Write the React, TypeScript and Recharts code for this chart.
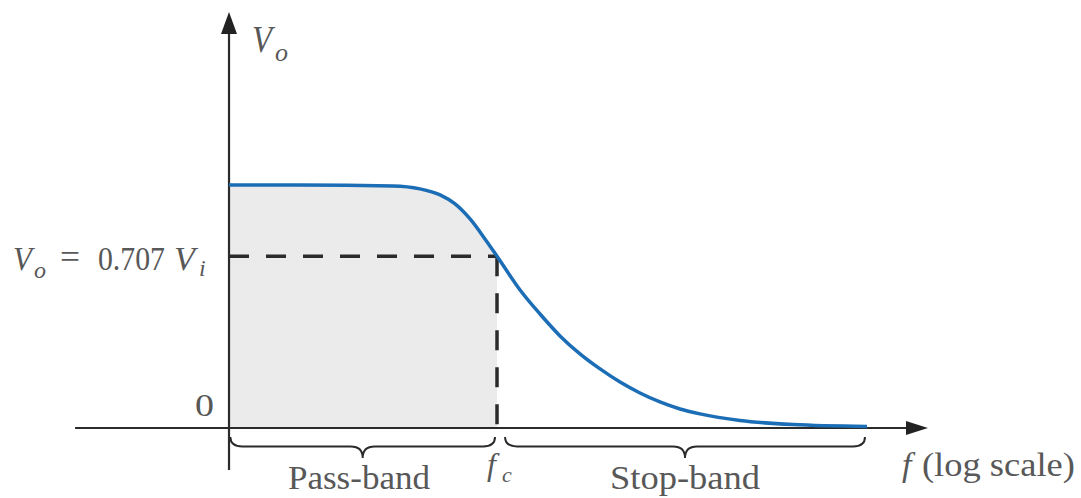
import React from "react";
import {
  ComposedChart,
  Area,
  Line,
  XAxis,
  YAxis,
  ReferenceLine,
  ReferenceDot,
  ReferenceArea,
} from "recharts";

// frequency in decades, relative to the vertical axis; fc sits at 2
const logFreq = [0, 0.53, 1.224, 1.425, 1.575, 1.687, 1.799, 1.91, 2.0, 2.172, 2.321, 2.47, 2.619, 2.769, 2.918, 3.067, 3.216, 3.366, 3.515, 3.813, 4.209, 4.761];
const gain = [1.0, 1.0, 0.996, 0.984, 0.959, 0.922, 0.86, 0.778, 0.707, 0.568, 0.469, 0.379, 0.305, 0.243, 0.189, 0.144, 0.107, 0.078, 0.058, 0.031, 0.014, 0.006];
const FC = 2;
const CUTOFF = 0.707;

const data = logFreq.map((x, i) => ({
  x,
  vo: gain[i],
  pass: x <= FC ? gain[i] : null,
}));

const INK = "#2b2b2b";
const TEXT = "#585858";
const SERIF = '"Liberation Serif", "Times New Roman", serif';

type Piece = { s: string; dx: number; dy: number; size: number; len?: number; italic?: boolean; anchor?: string };

const label = (parts: Piece[]) => (p: any) => (
  <g>
    {parts.map((t, i) => (
      <text
        key={i}
        x={p.cx + t.dx}
        y={p.cy + t.dy}
        fontFamily={SERIF}
        fontSize={t.size}
        fontStyle={t.italic ? "italic" : "normal"}
        fill={TEXT}
        textAnchor={t.anchor || "start"}
        textLength={t.len}
        lengthAdjust={t.len ? "spacingAndGlyphs" : undefined}
      >
        {t.s}
      </text>
    ))}
  </g>
);

const brace = (p: any) => {
  const { x, y, width: w, height: h } = p;
  const cx = x + w / 2;
  const hm = y + h * 0.45;
  const r = 12;
  const d = `M${x},${y} Q${x},${hm} ${x + r},${hm} L${cx - r},${hm} Q${cx},${hm} ${cx},${y + h} Q${cx},${hm} ${cx + r},${hm} L${x + w - r},${hm} Q${x + w},${hm} ${x + w},${y}`;
  return <path d={d} fill="none" stroke={INK} strokeWidth={2} />;
};

const arrowRight = (p: any) => (
  <polygon points={`${p.cx},${p.cy} ${p.cx - 22},${p.cy - 7} ${p.cx - 22},${p.cy + 7}`} fill="#222" />
);
const arrowUp = (p: any) => (
  <polygon points={`${p.cx},${p.cy} ${p.cx - 8},${p.cy + 22} ${p.cx + 8},${p.cy + 22}`} fill="#222" />
);

export default function App() {
  return (
    <div style={{ width: 1081, height: 498, background: "#fff" }}>
      <style>{`body{margin:0}`}</style>
      <ComposedChart width={1081} height={498} data={data} margin={{ top: 0, right: 0, bottom: 0, left: 0 }}>
        <XAxis type="number" dataKey="x" domain={[-1.709, 6.358]} hide allowDataOverflow />
        <YAxis type="number" domain={[-0.288, 1.761]} hide allowDataOverflow />

        <Area
          dataKey="pass"
          type="monotone"
          baseValue={0}
          fill="#ebebeb"
          fillOpacity={1}
          stroke="none"
          dot={false}
          activeDot={false}
          isAnimationActive={false}
        />

        {/* cutoff guides */}
        <ReferenceLine
          segment={[{ x: 0, y: CUTOFF }, { x: FC, y: CUTOFF }]}
          stroke={INK}
          strokeWidth={3.5}
          strokeDasharray="20 17"
        />
        <ReferenceLine
          segment={[{ x: FC, y: CUTOFF }, { x: FC, y: 0 }]}
          stroke={INK}
          strokeWidth={3.5}
          strokeDasharray="20 17"
        />

        {/* axes */}
        <ReferenceLine segment={[{ x: -1.149, y: 0 }, { x: 5.1, y: 0 }]} stroke={INK} strokeWidth={2.2} />
        <ReferenceLine segment={[{ x: 0, y: -0.173 }, { x: 0, y: 1.64 }]} stroke={INK} strokeWidth={2.2} />
        <ReferenceDot x={5.216} y={0} shape={arrowRight} />
        <ReferenceDot x={0} y={1.712} shape={arrowUp} />

        <Line
          dataKey="vo"
          type="monotone"
          stroke="#1b6db5"
          strokeWidth={3.5}
          dot={false}
          activeDot={false}
          isAnimationActive={false}
        />

        {/* band braces */}
        <ReferenceArea x1={0.01} x2={1.985} y1={-0.037} y2={-0.123} shape={brace} />
        <ReferenceArea x1={2.06} x2={4.746} y1={-0.037} y2={-0.123} shape={brace} />

        {/* labels */}
        <ReferenceDot
          x={0.172}
          y={1.547}
          shape={label([
            { s: "V", dx: 0, dy: 0, size: 38, len: 20, italic: true },
            { s: "o", dx: 23, dy: 9, size: 26, len: 13, italic: true },
          ])}
        />
        <ReferenceDot
          x={-1.612}
          y={0.65}
          shape={label([
            { s: "V", dx: 0, dy: 0, size: 34, len: 19, italic: true },
            { s: "o", dx: 21, dy: 8, size: 24, len: 12, italic: true },
            { s: "=", dx: 47, dy: -2, size: 34, len: 20 },
            { s: "0.707", dx: 85, dy: 0, size: 33, len: 67 },
            { s: "V", dx: 161, dy: 0, size: 34, len: 21, italic: true },
            { s: "i", dx: 186, dy: 6, size: 24, italic: true },
          ])}
        />
        <ReferenceDot
          x={-0.254}
          y={0.049}
          shape={label([{ s: "0", dx: 0, dy: 0, size: 32, len: 19 }])}
        />
        <ReferenceDot
          x={0.97}
          y={-0.251}
          shape={label([{ s: "Pass-band", dx: 0, dy: 0, size: 34, len: 142, anchor: "middle" }])}
        />
        <ReferenceDot
          x={1.91}
          y={-0.193}
          shape={label([
            { s: "f", dx: 2, dy: 0, size: 32, italic: true },
            { s: "c", dx: 17, dy: 7, size: 22, italic: true },
          ])}
        />
        <ReferenceDot
          x={3.403}
          y={-0.251}
          shape={label([{ s: "Stop-band", dx: 0, dy: 0, size: 34, len: 150, anchor: "middle" }])}
        />
        <ReferenceDot
          x={5.007}
          y={-0.198}
          shape={label([
            { s: "f", dx: 2, dy: 0, size: 34, italic: true },
            { s: "(log scale)", dx: 22, dy: 0, size: 34, len: 153 },
          ])}
        />
      </ComposedChart>
    </div>
  );
}
